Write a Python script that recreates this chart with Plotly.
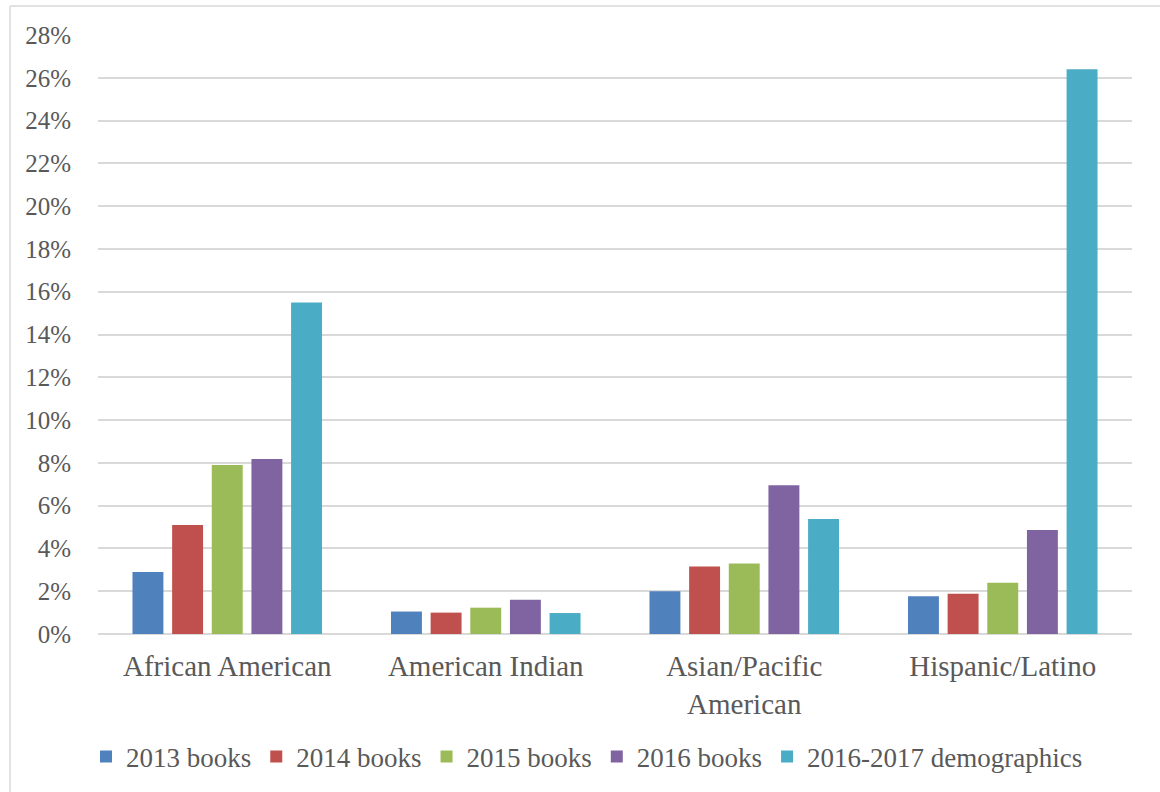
import plotly.graph_objects as go

categories = ["African American", "American Indian", "Asian/Pacific<br>American", "Hispanic/Latino"]
series_names = ["2013 books", "2014 books", "2015 books", "2016 books", "2016-2017 demographics"]
v2013 = [2.9, 1.05, 2.0, 1.77]
v2014 = [5.1, 1.0, 3.15, 1.88]
v2015 = [7.9, 1.23, 3.3, 2.4]
v2016 = [8.18, 1.6, 6.95, 4.86]
vdemo = [15.5, 0.98, 5.37, 26.4]
series_values = [v2013, v2014, v2015, v2016, vdemo]
colors = ["#4F81BD", "#C0504D", "#9BBB59", "#8064A2", "#4BACC6"]
tick_vals = list(range(0, 29, 2))
tick_text = [f"{t}%" for t in tick_vals]

W, H = 1160, 792
L, R, T, B = 98, 28, 35, 158
pw, ph = W - L - R, H - T - B

fig = go.Figure()
for name, vals, col in zip(series_names, series_values, colors):
    fig.add_trace(go.Bar(
        x=categories, y=vals, name=name,
        marker=dict(color=col, line=dict(width=0)),
    ))

font_family = "'Liberation Serif', 'Times New Roman', 'DejaVu Serif', serif"
fig.update_layout(
    width=W, height=H,
    margin=dict(l=L, r=R, t=T, b=B, autoexpand=False),
    paper_bgcolor="white", plot_bgcolor="white",
    barmode="group", bargap=0.233, bargroupgap=0.22,
    font=dict(family=font_family, color="#595959", size=24),
    showlegend=True,
    legend=dict(
        orientation="h", x=(587 - L) / pw, xanchor="center",
        y=(T + ph - 757) / ph, yanchor="middle",
        font=dict(family=font_family, size=27, color="#595959"),
        bgcolor="rgba(0,0,0,0)",
        itemwidth=30, tracegroupgap=0,
    ),
    xaxis=dict(
        showgrid=False, showline=False, zeroline=False,
        tickfont=dict(family=font_family, size=29, color="#595959"),
        ticks="", ticklabelstandoff=12,
    ),
    yaxis=dict(
        range=[0, 28], tickvals=tick_vals, ticktext=tick_text,
        showgrid=True, gridcolor="#D9D9D9", gridwidth=1.5,
        zeroline=True, zerolinecolor="#D9D9D9", zerolinewidth=1.5,
        showline=False, ticks="", ticklabelstandoff=26,
        tickfont=dict(family=font_family, size=25, color="#595959"),
    ),
    shapes=[
        dict(type="line", xref="paper", yref="paper",
             x0=(10 - L) / pw, x1=(W + 5 - L) / pw,
             y0=(T + ph - 6) / ph, y1=(T + ph - 6) / ph,
             line=dict(color="#D9D9D9", width=1.5)),
        dict(type="line", xref="paper", yref="paper",
             x0=(10 - L) / pw, x1=(10 - L) / pw,
             y0=(T + ph - 6) / ph, y1=(T + ph - H - 5) / ph,
             line=dict(color="#D9D9D9", width=1.5)),
    ],
)

fig.write_html("out.html")
